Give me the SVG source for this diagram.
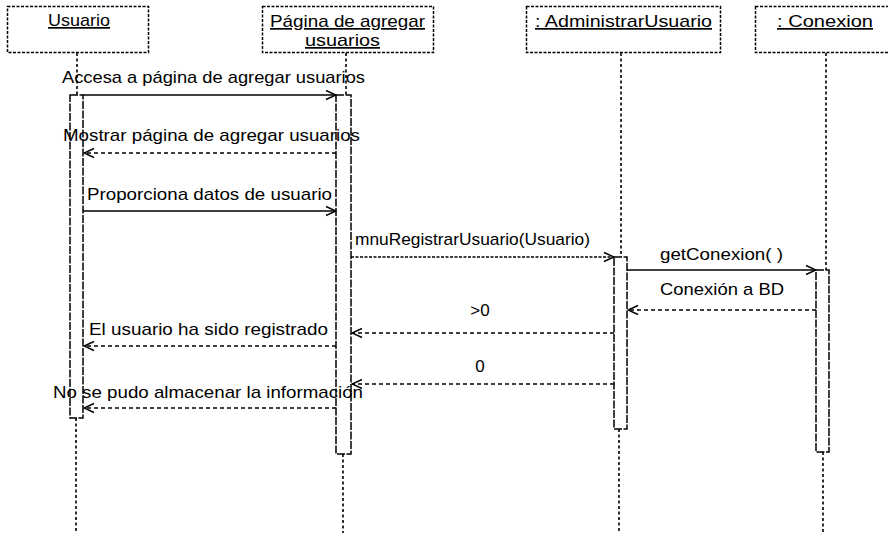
<svg xmlns="http://www.w3.org/2000/svg" width="888" height="533" viewBox="0 0 888 533">
<style>
  text { font-family: "Liberation Sans", Arial, sans-serif; font-size: 17px; fill: #000; }
  .obj { fill: #fff; stroke: #000; stroke-width: 1.5; stroke-dasharray: 3 1.5; }
  .life { stroke: #000; stroke-width: 1.6; stroke-dasharray: 3 2.5; fill: none; }
  .act { fill: #fff; stroke: #000; stroke-width: 1.5; stroke-dasharray: 8 1.5; }
  .call { stroke: #000; stroke-width: 1.4; fill: none; marker-end: url(#arr); }
  .dcall { stroke: #000; stroke-width: 1.4; fill: none; stroke-dasharray: 3 1.5; marker-end: url(#arr); }
  .ret { stroke: #000; stroke-width: 1.4; fill: none; stroke-dasharray: 4 3; marker-end: url(#arr); }
  .u { text-decoration: underline; }
</style>
<defs>
  <marker id="arr" viewBox="0 0 12 12" refX="11" refY="6" markerWidth="12" markerHeight="12" markerUnits="userSpaceOnUse" orient="auto">
    <path d="M1,1.5 L11,6 L1,10.5" fill="none" stroke="#000" stroke-width="1.4"/>
  </marker>
</defs>

<g id="lifelines">
  <line class="life" x1="77" y1="53" x2="77" y2="95"/>
  <line class="life" x1="76" y1="418" x2="76" y2="533"/>
  <line class="life" x1="346" y1="53" x2="346" y2="95"/>
  <line class="life" x1="343" y1="454" x2="343" y2="533"/>
  <line class="life" x1="621" y1="53" x2="621" y2="257"/>
  <line class="life" x1="619" y1="429" x2="619" y2="533"/>
  <line class="life" x1="826" y1="53" x2="826" y2="270"/>
  <line class="life" x1="823" y1="452" x2="823" y2="533"/>
</g>

<g id="usuario">
  <rect class="obj" x="7.5" y="6.5" width="141" height="46"/>
  <text class="u" x="48" y="26" textLength="62" lengthAdjust="spacingAndGlyphs">Usuario</text>
  <rect class="act" x="70" y="95" width="13" height="323"/>
</g>

<g id="pagina">
  <rect class="obj" x="262.5" y="6.5" width="171" height="46"/>
  <text class="u" x="270" y="27" textLength="155" lengthAdjust="spacingAndGlyphs">Página de agregar</text>
  <text class="u" x="305" y="46" textLength="75" lengthAdjust="spacingAndGlyphs">usuarios</text>
  <rect class="act" x="336" y="95" width="15" height="359"/>
</g>

<g id="administrarUsuario">
  <rect class="obj" x="526.5" y="6.5" width="194" height="46"/>
  <text class="u" x="535" y="27" textLength="177" lengthAdjust="spacingAndGlyphs">: AdministrarUsuario</text>
  <rect class="act" x="614" y="257" width="13" height="172"/>
</g>

<g id="conexion">
  <rect class="obj" x="755.5" y="6.5" width="140" height="46"/>
  <text class="u" x="777" y="27" textLength="96" lengthAdjust="spacingAndGlyphs">: Conexion</text>
  <rect class="act" x="816" y="270" width="13" height="182"/>
</g>

<g id="connectors">
  <line class="call" x1="83" y1="95" x2="336" y2="95"/>
  <text x="62" y="83" textLength="303" lengthAdjust="spacingAndGlyphs">Accesa a página de agregar usuarios</text>

  <line class="ret" x1="336" y1="153" x2="84" y2="153"/>
  <text x="63" y="141" textLength="297" lengthAdjust="spacingAndGlyphs">Mostrar página de agregar usuarios</text>

  <line class="call" x1="83" y1="211" x2="336" y2="211"/>
  <text x="87" y="200" textLength="245" lengthAdjust="spacingAndGlyphs">Proporciona datos de usuario</text>

  <line class="dcall" x1="351" y1="257" x2="614" y2="257"/>
  <text x="355" y="245" textLength="235" lengthAdjust="spacingAndGlyphs">mnuRegistrarUsuario(Usuario)</text>

  <line class="call" x1="627" y1="270" x2="816" y2="270"/>
  <text x="660" y="260" textLength="123" lengthAdjust="spacingAndGlyphs">getConexion( )</text>

  <line class="ret" x1="816" y1="310" x2="628" y2="310"/>
  <text x="660" y="295" textLength="124" lengthAdjust="spacingAndGlyphs">Conexión a BD</text>

  <line class="ret" x1="614" y1="333" x2="352" y2="333"/>
  <text x="480" y="316" text-anchor="middle">&gt;0</text>

  <line class="ret" x1="336" y1="346" x2="84" y2="346"/>
  <text x="89" y="335" textLength="239" lengthAdjust="spacingAndGlyphs">El usuario ha sido registrado</text>

  <line class="ret" x1="614" y1="384" x2="352" y2="384"/>
  <text x="480" y="372" text-anchor="middle">0</text>

  <line class="ret" x1="336" y1="408" x2="84" y2="408"/>
  <text x="53" y="398" textLength="310" lengthAdjust="spacingAndGlyphs">No se pudo almacenar la información</text>
</g>
</svg>
